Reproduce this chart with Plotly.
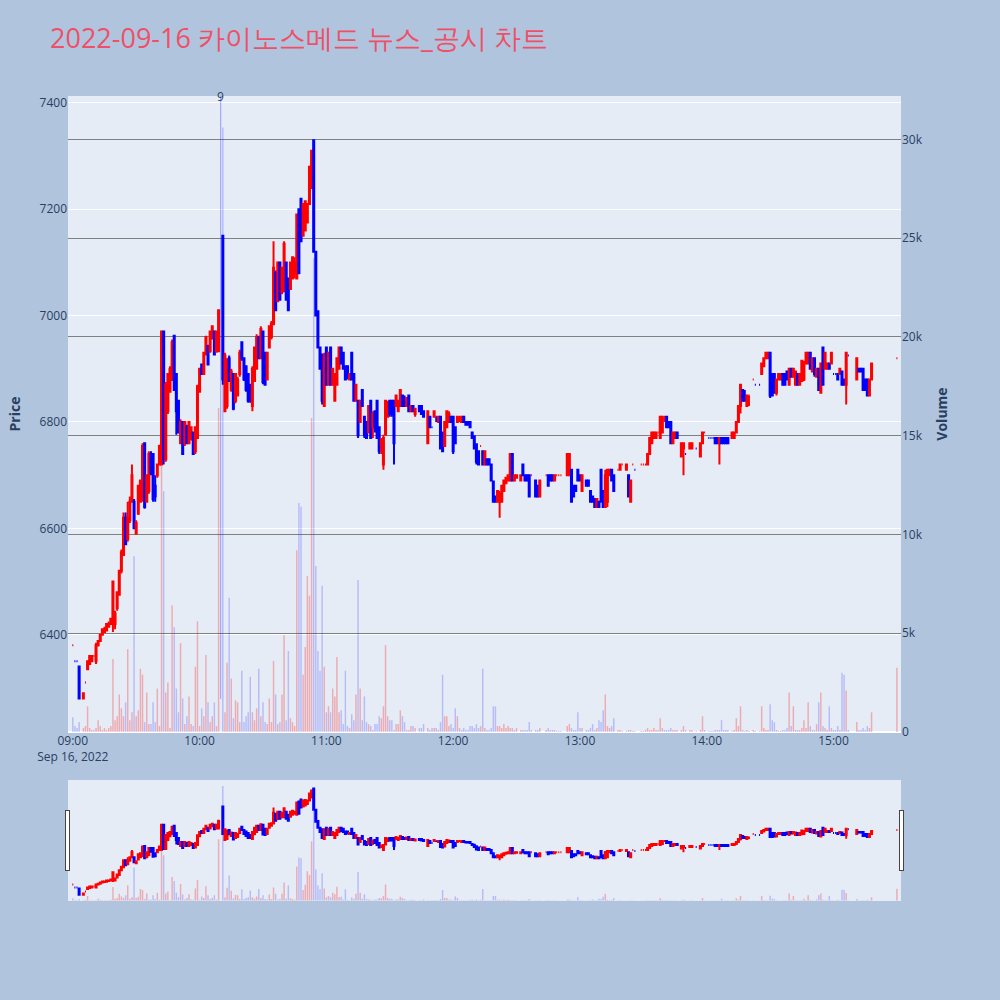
import pandas as pd
import plotly.graph_objects as go
from plotly.subplots import make_subplots

N = None
# 09:00 .. 15:19 each minute, then the 15:30 closing auction
times = list(pd.date_range("2022-09-16 09:00", periods=380, freq="min")) + [pd.Timestamp("2022-09-16 15:30")]

opens = [
    6380, 6350, 6350, 6340, N, 6280, 6310, 6335, 6345, 6350,
    6360, 6350, 6380, 6388, 6400, 6405, 6408, 6415, 6420, 6420,
    6420, 6450, 6475, 6520, 6550, 6620, 6580, 6615, 6650, 6650,
    6590, 6628, 6650, 6660, 6760, 6650, 6670, 6740, 6740, 6680,
    6700, 6720, 6720, 6970, 6730, 6820, 6857, 6880, 6962, 6890,
    6840, 6760, 6800, 6760, 6790, 6760, 6770, 6780, 6745, 6770,
    6857, 6908, 6890, 6927, 6942, 6933, 6957, 6970, 6933, 6933,
    N, 7150, 6820, 6830, 6920, 6860, 6890, 6840, 6850, 6890,
    6950, 6920, 6905, 6890, 6870, 6830, 6877, 6900, 6960, 6920,
    6970, 6930, 6880, 6940, 6960, 6984, 7080, 7027, 7100, 7045,
    7046, 7100, 7070, 7050, 7070, 7080, 7070, 7200, 7220, 7150,
    7160, 7175, 7210, 7240, 7330, 7120, 7008, 6940, 6927, 6830,
    6940, 6870, 6940, 6870, 6840, 6870, 6900, 6940, 6930, 6905,
    6905, 6880, 6930, 6890, 6840, 6840, 6800, 6860, 6810, 6800,
    6780, 6840, 6790, 6820, 6840, 6790, 6760, 6720, 6776, 6810,
    6840, 6840, 6840, 6830, 6820, 6830, 6850, 6840, 6830, 6850,
    6820, 6830, 6815, N, 6830, 6830, 6820, N, 6760, 6810,
    6790, 6810, 6810, 6800, 6810, 6780, 6755, 6790, 6800, 6810,
    6810, 6790, 6800, 6810, 6800, 6810, 6800, 6800, 6800, 6780,
    6773, 6758, 6745, 6755, 6745, 6720, 6730, 6730, 6720, 6688,
    6660, 6650, 6650, 6650, 6670, 6685, 6690, 6690, 6740, 6690,
    6695, N, 6690, 6720, 6700, 6700, 6700, 6700, N, 6690,
    6680, 6660, N, N, 6700, 6700, 6700, 6700, 6690, 6700,
    6700, 6700, N, N, 6700, 6700, 6710, 6680, 6680, 6710,
    6700, 6670, N, 6690, 6690, 6670, 6660, 6655, 6640, 6650,
    6710, 6670, 6640, 6650, 6700, 6710, 6700, N, 6710, 6710,
    6720, N, 6710, 6700, 6650, 6720, 6710, N, N, 6720,
    6720, 6720, 6720, 6740, 6760, 6770, 6770, 6780, 6770, 6780,
    6810, 6810, 6800, 6800, 6760, 6770, 6780, N, 6735, 6750,
    6740, N, 6750, 6750, N, 6750, N, 6735, 6760, 6780,
    N, 6770, 6770, 6770, 6770, 6770, 6760, 6770, 6770, 6770,
    6770, N, 6770, 6770, 6780, 6800, 6830, 6860, 6850, 6830,
    6850, N, 6880, 6870, N, 6870, 6890, 6905, 6920, 6920,
    6930, 6890, 6890, 6855, 6880, 6880, 6890, 6890, 6895, 6870,
    6900, 6885, 6870, 6890, 6870, 6877, 6880, 6910, 6910, 6930,
    6895, 6920, 6885, 6900, 6855, 6940, 6900, 6900, 6910, 6910,
    6890, 6890, 6890, 6890, 6895, 6880, 6870, 6925, N, N,
    N, 6880, 6900, 6900, 6900, 6880, 6880, 6850, 6880, N,
    6920,
]

highs = [
    6380, 6350, 6350, 6340, N, 6290, 6310, 6350, 6360, 6360,
    6360, 6385, 6390, 6400, 6410, 6415, 6420, 6425, 6430, 6500,
    6445, 6480, 6520, 6560, 6630, 6630, 6650, 6660, 6720, 6655,
    6615, 6680, 6690, 6760, 6760, 6700, 6745, 6745, 6740, 6700,
    6720, 6757, 6972, 6972, 6875, 6890, 6905, 6955, 6962, 6890,
    6840, 6805, 6800, 6800, 6795, 6800, 6790, 6780, 6790, 6870,
    6900, 6910, 6930, 6962, 6945, 6970, 6980, 6970, 6970, 7012,
    N, 7150, 6930, 6920, 6925, 6900, 6890, 6890, 6885, 6936,
    6950, 6920, 6905, 6890, 6870, 6905, 6940, 6965, 6962, 6980,
    6970, 6930, 6930, 6980, 6990, 7140, 7085, 7100, 7100, 7090,
    7140, 7100, 7070, 7100, 7110, 7110, 7190, 7200, 7220, 7210,
    7215, 7210, 7280, 7310, 7330, 7120, 7008, 6940, 6927, 6930,
    6940, 6930, 6940, 6900, 6890, 6920, 6940, 6940, 6930, 6905,
    6905, 6890, 6930, 6890, 6870, 6840, 6840, 6860, 6810, 6800,
    6830, 6840, 6820, 6820, 6840, 6790, 6770, 6776, 6840, 6840,
    6840, 6840, 6840, 6850, 6840, 6860, 6850, 6850, 6845, 6850,
    6830, 6830, 6825, N, 6830, 6830, 6820, N, 6820, 6810,
    6790, 6820, 6810, 6810, 6810, 6780, 6800, 6820, 6820, 6810,
    6810, 6790, 6810, 6810, 6810, 6810, 6800, 6800, 6800, 6780,
    6773, 6758, 6745, 6755, 6745, 6745, 6730, 6730, 6720, 6688,
    6660, 6670, 6670, 6680, 6690, 6695, 6700, 6740, 6740, 6700,
    6700, N, 6700, 6720, 6700, 6700, 6700, 6700, N, 6690,
    6680, 6690, N, N, 6700, 6700, 6700, 6700, 6700, 6700,
    6700, 6700, N, N, 6740, 6740, 6710, 6680, 6680, 6710,
    6700, 6700, N, 6690, 6690, 6670, 6660, 6655, 6655, 6650,
    6710, 6670, 6710, 6710, 6710, 6710, 6700, N, 6710, 6720,
    6720, N, 6720, 6700, 6690, 6720, 6710, N, N, 6720,
    6720, 6720, 6740, 6770, 6780, 6780, 6780, 6780, 6810, 6810,
    6810, 6810, 6800, 6800, 6780, 6780, 6780, N, 6760, 6760,
    6740, N, 6760, 6760, N, 6750, N, 6760, 6780, 6780,
    N, 6770, 6770, 6770, 6770, 6770, 6770, 6770, 6770, 6770,
    6770, N, 6780, 6780, 6800, 6830, 6870, 6860, 6860, 6850,
    6850, N, 6880, 6870, N, 6870, 6910, 6920, 6930, 6930,
    6930, 6890, 6890, 6880, 6890, 6890, 6890, 6890, 6895, 6900,
    6900, 6900, 6895, 6890, 6890, 6915, 6915, 6930, 6930, 6930,
    6920, 6920, 6900, 6900, 6910, 6940, 6930, 6910, 6910, 6930,
    6890, 6890, 6890, 6900, 6895, 6880, 6930, 6925, N, N,
    N, 6920, 6900, 6900, 6900, 6880, 6880, 6880, 6910, N,
    6920,
]

lows = [
    6380, 6350, 6350, 6280, N, 6280, 6310, 6335, 6345, 6350,
    6360, 6345, 6378, 6388, 6400, 6405, 6408, 6415, 6420, 6405,
    6410, 6445, 6475, 6515, 6550, 6570, 6575, 6610, 6650, 6600,
    6590, 6625, 6650, 6650, 6637, 6650, 6665, 6700, 6650, 6650,
    6695, 6720, 6720, 6720, 6725, 6815, 6855, 6877, 6860, 6776,
    6780, 6758, 6740, 6755, 6760, 6760, 6765, 6740, 6740, 6770,
    6855, 6890, 6890, 6925, 6908, 6930, 6955, 6927, 6930, 6933,
    N, 6870, 6820, 6825, 6877, 6857, 6822, 6835, 6850, 6885,
    6915, 6877, 6857, 6836, 6836, 6820, 6877, 6900, 6920, 6920,
    6871, 6870, 6880, 6940, 6955, 6984, 7008, 7027, 7030, 7040,
    7046, 7030, 7008, 7050, 7070, 7070, 7070, 7078, 7140, 7150,
    7160, 7175, 7210, 7240, 7120, 7000, 6940, 6900, 6833, 6830,
    6870, 6870, 6870, 6870, 6840, 6870, 6900, 6910, 6900, 6880,
    6880, 6880, 6880, 6840, 6840, 6770, 6800, 6830, 6770, 6770,
    6780, 6770, 6770, 6780, 6770, 6740, 6740, 6710, 6776, 6810,
    6810, 6810, 6720, 6830, 6820, 6830, 6830, 6830, 6830, 6820,
    6820, 6820, 6810, N, 6820, 6815, 6810, N, 6760, 6790,
    6790, 6810, 6800, 6800, 6750, 6745, 6755, 6790, 6800, 6800,
    6740, 6760, 6800, 6800, 6800, 6800, 6795, 6795, 6790, 6770,
    6750, 6720, 6720, 6755, 6720, 6720, 6720, 6720, 6688, 6650,
    6650, 6650, 6620, 6650, 6670, 6685, 6690, 6690, 6690, 6690,
    6695, N, 6690, 6700, 6690, 6690, 6660, 6700, N, 6660,
    6660, 6660, N, N, 6700, 6680, 6690, 6690, 6690, 6700,
    6700, 6700, N, N, 6700, 6700, 6650, 6660, 6670, 6690,
    6690, 6670, N, 6680, 6680, 6650, 6650, 6640, 6640, 6640,
    6650, 6640, 6640, 6640, 6700, 6690, 6670, N, 6710, 6710,
    6720, N, 6710, 6660, 6650, 6720, 6710, N, N, 6720,
    6720, 6720, 6720, 6740, 6760, 6770, 6770, 6780, 6770, 6780,
    6800, 6790, 6790, 6760, 6760, 6770, 6770, N, 6735, 6700,
    6740, N, 6750, 6750, N, 6750, N, 6735, 6760, 6780,
    N, 6770, 6770, 6770, 6760, 6760, 6720, 6760, 6760, 6760,
    6760, N, 6770, 6770, 6780, 6800, 6816, 6840, 6840, 6830,
    6830, N, 6880, 6870, N, 6870, 6890, 6905, 6920, 6920,
    6845, 6850, 6855, 6850, 6880, 6880, 6870, 6870, 6880, 6870,
    6885, 6885, 6870, 6870, 6870, 6877, 6877, 6910, 6910, 6900,
    6895, 6885, 6885, 6860, 6855, 6870, 6900, 6900, 6900, 6910,
    6890, 6890, 6880, 6890, 6870, 6870, 6833, 6925, N, N,
    N, 6880, 6895, 6895, 6860, 6860, 6850, 6850, 6880, N,
    6920,
]

closes = [
    6380, 6350, 6350, 6280, N, 6290, 6310, 6350, 6360, 6360,
    6360, 6380, 6388, 6400, 6410, 6410, 6420, 6420, 6430, 6500,
    6440, 6480, 6520, 6555, 6620, 6570, 6620, 6650, 6700, 6600,
    6610, 6680, 6690, 6755, 6640, 6700, 6740, 6705, 6655, 6660,
    6720, 6755, 6970, 6730, 6870, 6890, 6900, 6950, 6860, 6820,
    6780, 6800, 6740, 6800, 6760, 6800, 6790, 6740, 6790, 6867,
    6900, 6890, 6930, 6960, 6908, 6970, 6980, 6927, 6970, 7010,
    N, 6880, 6925, 6915, 6877, 6895, 6825, 6890, 6880, 6930,
    6920, 6880, 6860, 6840, 6840, 6900, 6940, 6960, 6920, 6975,
    6875, 6870, 6930, 6980, 6985, 7090, 7010, 7100, 7030, 7090,
    7135, 7030, 7010, 7100, 7110, 7100, 7190, 7080, 7140, 7210,
    7215, 7210, 7280, 7310, 7120, 7000, 6940, 6900, 6840, 6925,
    6870, 6930, 6870, 6900, 6890, 6920, 6940, 6910, 6900, 6880,
    6885, 6890, 6880, 6840, 6870, 6775, 6840, 6830, 6775, 6770,
    6830, 6770, 6815, 6790, 6770, 6745, 6765, 6770, 6840, 6835,
    6815, 6815, 6760, 6850, 6840, 6860, 6830, 6830, 6845, 6820,
    6830, 6820, 6825, N, 6820, 6815, 6810, N, 6820, 6790,
    6790, 6820, 6810, 6810, 6750, 6745, 6800, 6820, 6815, 6800,
    6745, 6760, 6810, 6810, 6810, 6800, 6795, 6795, 6790, 6770,
    6750, 6725, 6720, 6755, 6720, 6745, 6720, 6720, 6690, 6650,
    6650, 6670, 6665, 6680, 6690, 6695, 6700, 6740, 6690, 6700,
    6700, N, 6700, 6700, 6690, 6690, 6660, 6700, N, 6660,
    6660, 6690, N, N, 6700, 6680, 6690, 6690, 6700, 6700,
    6700, 6700, N, N, 6740, 6740, 6650, 6660, 6670, 6690,
    6690, 6700, N, 6680, 6680, 6650, 6650, 6640, 6655, 6640,
    6650, 6640, 6700, 6710, 6710, 6690, 6670, N, 6710, 6720,
    6720, N, 6720, 6660, 6690, 6720, 6710, N, N, 6720,
    6720, 6720, 6740, 6770, 6780, 6780, 6780, 6780, 6810, 6810,
    6810, 6790, 6790, 6760, 6780, 6780, 6770, N, 6760, 6760,
    6740, N, 6760, 6760, N, 6750, N, 6760, 6780, 6780,
    N, 6770, 6770, 6770, 6760, 6760, 6770, 6760, 6760, 6760,
    6760, N, 6780, 6780, 6800, 6830, 6870, 6840, 6840, 6850,
    6850, N, 6880, 6870, N, 6870, 6910, 6920, 6930, 6930,
    6850, 6850, 6855, 6880, 6890, 6890, 6870, 6870, 6880, 6900,
    6885, 6900, 6895, 6870, 6890, 6915, 6910, 6930, 6930, 6900,
    6920, 6890, 6900, 6860, 6910, 6870, 6930, 6910, 6900, 6930,
    6890, 6890, 6880, 6900, 6870, 6870, 6930, 6925, N, N,
    N, 6920, 6895, 6895, 6860, 6860, 6850, 6880, 6910, N,
    6920,
]

volumes = [
    750, 300, 200, 500, N, 200, 300, 1300, 200, 100,
    100, 200, 600, 300, 100, 200, 100, 200, 300, 3700,
    600, 800, 1900, 1200, 800, 1500, 4200, 600, 1000, 8900,
    800, 1100, 3200, 2900, 500, 2000, 400, 400, 1500, 500,
    2200, 300, 13500, 12200, 2000, 2500, 200, 6400, 5300, 2200,
    1000, 4500, 1700, 400, 800, 1800, 400, 300, 3300, 5600,
    300, 1200, 800, 3900, 1500, 500, 800, 1500, 300, 16400,
    N, 30600, 1000, 3500, 6800, 2700, 700, 1600, 1500, 500,
    3100, 500, 800, 1000, 2800, 1000, 600, 1200, 3200, 800,
    1500, 500, 400, 1700, 500, 3600, 1900, 400, 500, 1900,
    4900, 600, 4100, 700, 500, 300, 9200, 11600, 11400, 2900,
    4300, 7900, 6900, 15900, 24000, 8400, 4100, 3100, 7400, 3300,
    1000, 1300, 1000, 2200, 1800, 3800, 1000, 1100, 400, 3100,
    300, 200, 900, 600, 1900, 7700, 2200, 600, 1800, 500,
    400, 300, 100, 400, 400, 800, 700, 1300, 4400, 800,
    600, 600, 100, 400, 400, 1100, 800, 500, 100, 100,
    300, 300, 200, N, 200, 200, 400, N, 200, 100,
    200, 200, 200, 100, 500, 2900, 800, 800, 300, 400,
    200, 1200, 800, 200, 100, 200, 100, 100, 300, 300,
    200, 400, 200, 300, 3200, 200, 100, 100, 200, 1300,
    1300, 300, 300, 200, 400, 200, 300, 200, 200, 100,
    200, N, 100, 100, 100, 100, 500, 100, N, 100,
    100, 200, N, N, 100, 200, 100, 100, 100, 50,
    50, 50, N, N, 300, 400, 200, 100, 100, 1000,
    200, 200, N, 100, 100, 200, 400, 100, 200, 600,
    500, 1100, 1900, 300, 200, 300, 700, N, 100, 100,
    50, N, 50, 100, 100, 50, 50, N, N, 50,
    50, 100, 200, 100, 100, 200, 100, 100, 700, 200,
    100, 100, 100, 200, 100, 100, 100, N, 100, 300,
    100, N, 100, 100, N, 50, N, 100, 800, 100,
    N, 50, 50, 50, 100, 100, 100, 600, 100, 100,
    100, N, 50, 100, 700, 300, 1300, 100, 50, 100,
    50, N, 100, 50, N, 50, 1300, 200, 100, 100,
    1400, 600, 500, 100, 50, 50, 100, 100, 200, 2000,
    300, 1300, 100, 100, 100, 200, 600, 200, 1500, 300,
    100, 100, 400, 1500, 2000, 300, 200, 100, 1300, 200,
    100, 100, 300, 100, 3000, 2900, 2100, 100, N, N,
    N, 500, 100, 100, 200, 100, 300, 200, 1000, N,
    3250,
]

news_time = "2022-09-16 10:10"
news_label = "9"

# volume colour follows the candle direction
vol_colors = []
prev_close = None
for o, c in zip(opens, closes):
    if o is None:
        vol_colors.append("rgba(0,0,0,0)")
        continue
    up = c > o or (c == o and prev_close is not None and c > prev_close)
    vol_colors.append("rgba(255,0,0,0.27)" if up else "rgba(0,0,255,0.2)")
    prev_close = c

fig = make_subplots(specs=[[{"secondary_y": True}]])
fig.add_trace(go.Candlestick(
    x=times, open=opens, high=highs, low=lows, close=closes,
    increasing=dict(line=dict(color="red"), fillcolor="red"),
    decreasing=dict(line=dict(color="blue"), fillcolor="blue"),
    name="Price", showlegend=False), secondary_y=False)
fig.add_trace(go.Bar(
    x=times, y=volumes, marker=dict(color=vol_colors, line=dict(width=0)),
    name="Volume", showlegend=False), secondary_y=True)

x_range = ["2022-09-16 08:57:44", "2022-09-16 15:31:56"]

fig.add_shape(type="line", xref="x", yref="paper", x0=news_time, x1=news_time,
              y0=0.052, y1=1.0, line=dict(color="rgba(0,0,255,0.35)", width=1))
fig.add_annotation(x=news_time, y=1.0, xref="x", yref="paper", text=news_label,
                   showarrow=False, yanchor="middle", font=dict(size=12, color="#2a3f5f"))

fig.update_layout(
    width=1000, height=1000,
    autosize=False,
    paper_bgcolor="lightsteelblue",
    title=dict(text="2022-09-16 카이노스메드 뉴스_공시 차트",
               font=dict(size=27, color="#ee5068"), x=0.05, y=0.961, yanchor="middle"),
    margin=dict(l=68, r=99, t=96, b=100),
    showlegend=False,
    bargap=0.3,
)
fig.update_xaxes(range=x_range, domain=[0, 1], showgrid=False, automargin=False,
                 rangeslider=dict(visible=True, range=x_range, bgcolor="#E5ECF6"))
fig.update_yaxes(title_text="<b>Price</b>", range=[6217, 7413], automargin=False,
                 secondary_y=False)
fig.update_yaxes(title_text="<b>Volume</b>", range=[0, 32200], gridcolor="gray",
                 automargin=False, secondary_y=True)

fig.write_html("out.html", config={"responsive": False, "displayModeBar": False},
               post_script="document.body.style.margin='0';document.body.style.overflow='hidden';")
